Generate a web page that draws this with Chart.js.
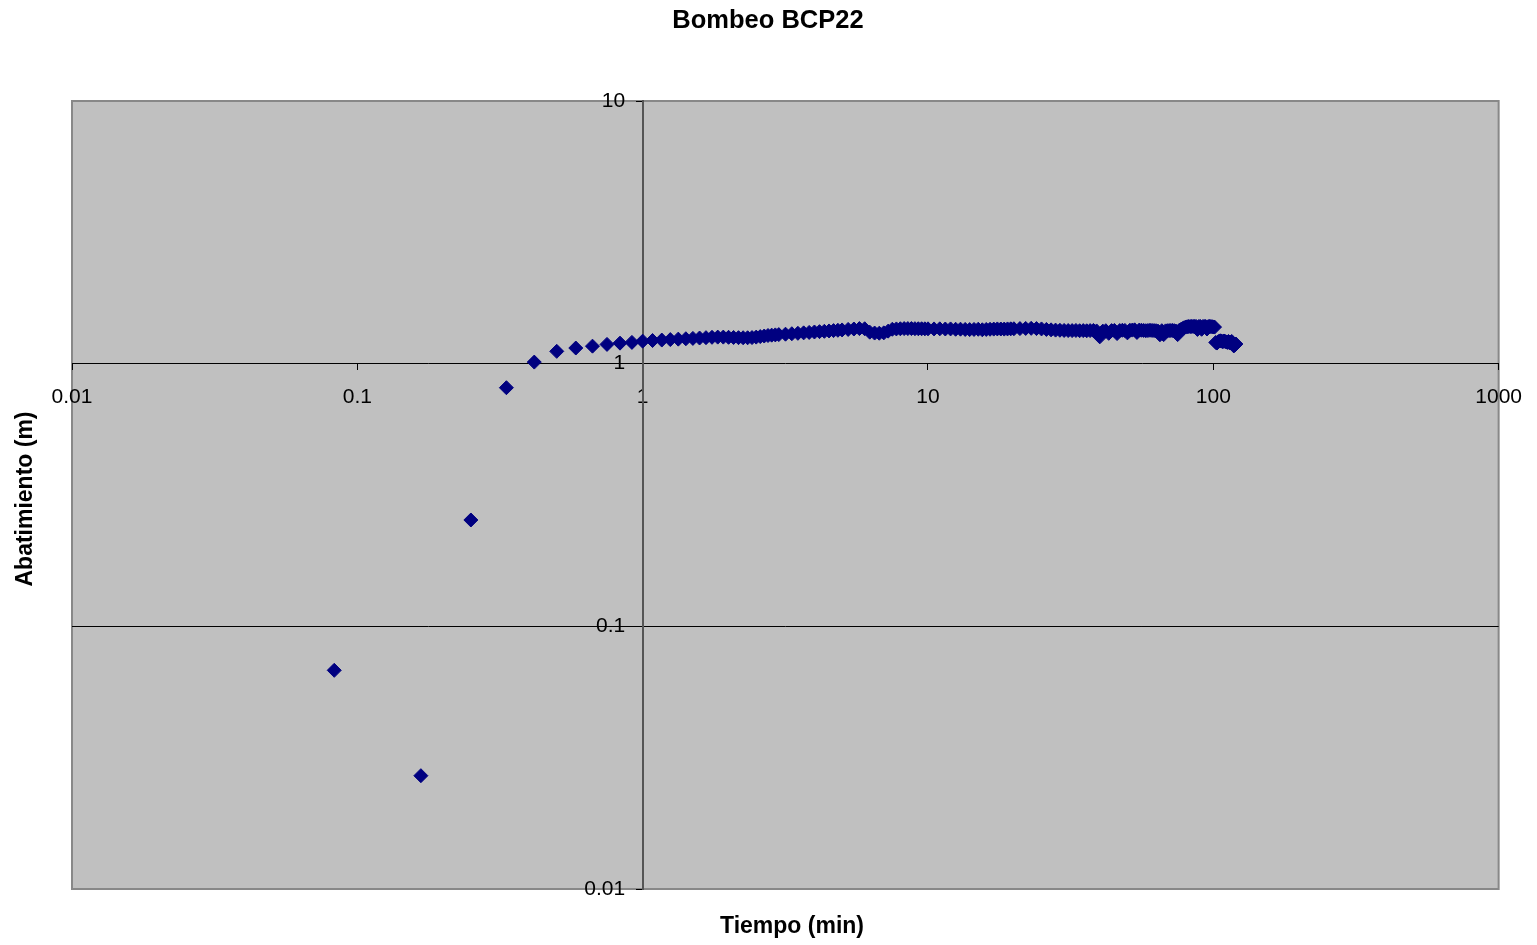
<!DOCTYPE html>
<html>
<head>
<meta charset="utf-8">
<title>Bombeo BCP22</title>
<script src="https://cdn.jsdelivr.net/npm/chart.js@4.4.0/dist/chart.umd.min.js"></script>
<style>
  html, body { margin: 0; padding: 0; background: #fff; }
</style>
</head>
<body>
<canvas id="grafico" width="1537" height="945"></canvas>
<script>
// tiempo en minutos
const tiempo = [
  0.083, 0.167, 0.25, 0.333, 0.417, 0.5, 0.583, 0.667, 0.75, 0.833, 0.917, 1,
  1.083, 1.167, 1.25, 1.333, 1.417, 1.5, 1.583, 1.667, 1.75, 1.833, 1.917, 2,
  2.083, 2.167, 2.25, 2.333, 2.417, 2.5, 2.583, 2.667, 2.75, 2.833, 2.917, 3,
  3.167, 3.333, 3.5, 3.667, 3.833, 4, 4.167, 4.333, 4.5, 4.667, 4.833, 5,
  5.25, 5.5, 5.75, 6, 6.25, 6.5, 6.75, 7, 7.25, 7.5,
  7.75, 8, 8.25, 8.5, 8.75, 9, 9.25, 9.5, 9.75, 10,
  10.5, 11, 11.5, 12, 12.5, 13, 13.5, 14, 14.5, 15,
  15.5, 16, 16.5, 17, 17.5, 18, 18.5, 19, 19.5, 20,
  21, 22, 23, 24, 25, 26, 27, 28, 29, 30,
  31, 32, 33, 34, 35, 36, 37, 38, 39, 40,
  41, 42, 43, 44, 45, 46, 47, 48, 49, 50,
  51, 52, 53, 54, 55, 56, 57, 58, 59, 60,
  61, 62, 63, 64, 65, 66, 67, 68, 69, 70,
  71, 72, 73, 74, 75, 76, 77, 78, 79, 80,
  81, 82, 83, 84, 85, 86, 87, 88, 89, 90,
  91, 92, 93, 94, 95, 96, 97, 98, 99, 100,
  101, 102, 103, 104, 105, 106, 107, 108, 109, 110,
  111, 112, 113, 114, 115, 116, 117, 118, 119, 120
];

// abatimiento en metros
const abatimiento = [
  0.068, 0.027, 0.254, 0.81, 1.014, 1.114, 1.147, 1.166, 1.184, 1.197, 1.205, 1.218,
  1.225, 1.23, 1.235, 1.24, 1.244, 1.248, 1.252, 1.256, 1.26, 1.262, 1.262, 1.26,
  1.258, 1.256, 1.255, 1.255, 1.257, 1.262, 1.268, 1.274, 1.28, 1.284, 1.287, 1.29,
  1.295, 1.3, 1.305, 1.31, 1.315, 1.32, 1.324, 1.328, 1.332, 1.336, 1.34, 1.344,
  1.35, 1.355, 1.36, 1.358, 1.318, 1.308, 1.306, 1.31, 1.33, 1.352,
  1.356, 1.358, 1.36, 1.36, 1.36, 1.359, 1.358, 1.358, 1.357, 1.357,
  1.356, 1.357, 1.355, 1.356, 1.352, 1.353, 1.35, 1.348, 1.35, 1.352,
  1.346, 1.35, 1.352, 1.354, 1.356, 1.355, 1.354, 1.356, 1.357, 1.358,
  1.36, 1.362, 1.363, 1.36, 1.356, 1.35, 1.345, 1.342, 1.34, 1.338,
  1.337, 1.336, 1.338, 1.335, 1.336, 1.334, 1.336, 1.338, 1.332, 1.265,
  1.33, 1.335, 1.305, 1.336, 1.338, 1.302, 1.337, 1.34, 1.338, 1.31,
  1.34, 1.342, 1.345, 1.315, 1.342, 1.34, 1.338, 1.335, 1.337, 1.34,
  1.338, 1.336, 1.335, 1.33, 1.288, 1.335, 1.29, 1.333, 1.335, 1.336,
  1.337, 1.338, 1.335, 1.33, 1.29, 1.34, 1.35, 1.36, 1.37, 1.378,
  1.382, 1.385, 1.384, 1.386, 1.386, 1.385, 1.386, 1.35, 1.385, 1.386,
  1.352, 1.385, 1.384, 1.385, 1.355, 1.384, 1.385, 1.384, 1.383, 1.38,
  1.378, 1.205, 1.198, 1.21, 1.22, 1.222, 1.218, 1.212, 1.22, 1.215,
  1.21, 1.205, 1.215, 1.2, 1.205, 1.215, 1.2, 1.168, 1.178, 1.188
];

const ticksX = [0.01, 0.1, 1, 10, 100, 1000];
const ticksY = [0.01, 0.1, 1, 10];

const fuente = '"Liberation Sans", Arial, sans-serif';

const puntos = tiempo.map((t, i) => ({ x: t, y: abatimiento[i] }));

// fondo gris del area de trazado y titulos de estilo Excel
const estiloExcel = {
  id: 'estiloExcel',
  beforeDraw(chart) {
    const { ctx, chartArea: a } = chart;
    ctx.save();
    ctx.fillStyle = '#c0c0c0';
    ctx.fillRect(a.left, a.top, a.width, a.height);
    ctx.strokeStyle = '#888888';
    ctx.lineWidth = 2;
    ctx.strokeRect(a.left, a.top, a.width, a.height);
    ctx.restore();
  },
  afterDraw(chart) {
    const ctx = chart.ctx;
    ctx.save();
    ctx.fillStyle = '#000';
    ctx.textAlign = 'center';
    ctx.textBaseline = 'middle';
    ctx.font = 'bold 25.5px ' + fuente;
    ctx.fillText('Bombeo BCP22', 768, 21);
    ctx.font = 'bold 23px ' + fuente;
    ctx.fillText('Tiempo (min)', 792, 927);
    ctx.translate(26, 499);
    ctx.rotate(-Math.PI / 2);
    ctx.fillText('Abatimiento (m)', 0, 0);
    ctx.restore();
  }
};

new Chart(document.getElementById('grafico'), {
  type: 'scatter',
  data: {
    datasets: [{
      label: 'Abatimiento',
      data: puntos,
      pointStyle: 'rectRot',
      pointRadius: 7,
      pointHoverRadius: 7,
      borderWidth: 1,
      backgroundColor: '#000080',
      borderColor: '#000080',
      showLine: false
    }]
  },
  options: {
    responsive: false,
    animation: false,
    layout: { padding: { left: 72, right: 36, top: 101, bottom: 56 } },
    plugins: {
      legend: { display: false },
      title: { display: false },
      tooltip: { enabled: false }
    },
    scales: {
      x: {
        type: 'logarithmic',
        min: 0.01,
        max: 1000,
        position: { y: 1 },
        afterBuildTicks: (s) => { s.ticks = ticksX.map(v => ({ value: v })); },
        ticks: {
          callback: (v) => String(v),
          color: '#000',
          font: { family: fuente, size: 21 },
          padding: 15,
          maxRotation: 0,
          autoSkip: false
        },
        grid: { display: true, drawOnChartArea: false, drawTicks: true, tickLength: 6, tickColor: '#000' },
        border: { display: true, color: '#000', width: 1 }
      },
      y: {
        type: 'logarithmic',
        min: 0.01,
        max: 10,
        position: { x: 1 },
        afterBuildTicks: (s) => { s.ticks = ticksY.map(v => ({ value: v })); },
        ticks: {
          callback: (v) => String(v) + '   ',
          color: '#000',
          font: { family: fuente, size: 21 },
          autoSkip: false
        },
        grid: {
          color: (c) => (c.tick && c.tick.value === 0.1 ? '#000' : 'rgba(0,0,0,0)'),
          tickColor: '#000',
          tickLength: 6
        },
        border: { display: true, color: '#555', width: 2 }
      }
    }
  },
  plugins: [estiloExcel]
});
</script>
</body>
</html>
